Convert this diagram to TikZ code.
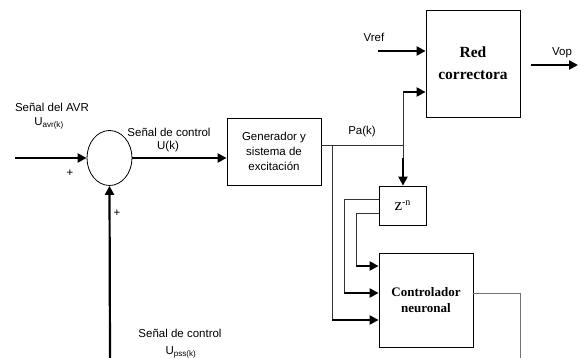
\documentclass[tikz,border=0pt]{standalone}
\usepackage{fontspec}
\setmainfont{Liberation Serif}
\setsansfont{Liberation Sans}
\usetikzlibrary{arrows.meta,shapes.geometric}
\begin{document}
\begin{tikzpicture}[x=1pt,y=-1pt,
  lbl/.style={font=\sffamily\fontsize{11.5}{14}\selectfont, inner sep=0pt, align=center},
  blk/.style={draw, line width=0.8pt, inner sep=0pt, align=center},
  thn/.style={line width=0.8pt, draw=black!80},
  thk/.style={line width=2.2pt},
  arr/.style={thk, -{Triangle[length=9pt,width=9pt]}}]
\useasboundingbox (0,0) rectangle (581,358);
% blocks
\node[draw, ellipse, line width=0.8pt, minimum width=45pt, minimum height=55pt, inner sep=0pt] (sum) at (109.5,158) {};
\node[blk, minimum width=94pt, minimum height=67pt, font=\sffamily\fontsize{11.5}{15}\selectfont] (gen) at (274,151.5) {Generador y\\sistema de\\excitación};
\node[blk, minimum width=94pt, minimum height=107pt, font=\bfseries\fontsize{15.5}{22}\selectfont] (red) at (473,63.5) {Red\\correctora};
\node[blk, minimum width=47pt, minimum height=39pt, font=\fontsize{17}{18}\selectfont] (z) at (402.5,205.5) {z\raisebox{5pt}{\fontsize{10}{10}\selectfont -n}};
\node[blk, minimum width=94pt, minimum height=94pt, font=\bfseries\fontsize{13}{16}\selectfont] (ctrl) at (426,300) {Controlador\\neuronal};
% coordinates
\coordinate (avrin) at (15,158);
\coordinate (pssin) at (110,358);
\coordinate (vrefin) at (378,51);
\coordinate (vopa) at (531,65);
\coordinate (vopb) at (578,65);
\coordinate (pa) at (403,145);
\coordinate (t1) at (403,92);
\coordinate (t2) at (403,158);
\coordinate (br) at (332,145);
\coordinate (b2) at (332,320);
\coordinate (za) at (379,199);
\coordinate (zb) at (379,213);
\coordinate (c1) at (344,293);
\coordinate (c2) at (356,266);
\coordinate (o1) at (520,358);
% connectors
\draw[arr] (avrin) -- (sum.west);
\draw[arr] (pssin) -- (sum.south);
\draw[arr] (sum.east) -- (gen.west |- sum.east);
\draw[arr] (vrefin) -- (red.west |- vrefin);
\draw[arr] (vopa) -- (vopb);
\draw[thn] (gen.east |- pa) -- (pa);
\draw[thn] (pa) -- (t1);
\draw[arr] (t1) -- (red.west |- t1);
\draw[thn] (pa) -- (t2);
\draw[arr] (t2) -- (t2 |- z.north);
\draw[thn] (br) -- (b2);
\draw[arr] (b2) -- (ctrl.west |- b2);
\draw[thn] (za) -| (c1);
\draw[arr] (c1) -- (ctrl.west |- c1);
\draw[thn] (zb) -| (c2);
\draw[arr] (c2) -- (ctrl.west |- c2);
\draw[thn, draw=black!55] (ctrl.east |- c1) -| (o1);
% labels
\node[lbl] (l1) at (52,107) {Señal del AVR};
\node[lbl] (l2) at (49,123) {U\textsubscript{avr(k)}};
\node[lbl] (p1) at (70,173) {+};
\node[lbl] (l3) at (169,132) {Señal de control};
\node[lbl] (l4) at (168,147) {U(k)};
\node[lbl] (l5) at (362,132) {Pa(k)};
\node[lbl] (l6) at (374,37) {Vref};
\node[lbl] (l7) at (562,53) {Vop};
\node[lbl] (p2) at (117,213) {+};
\node[lbl] (l8) at (180,333) {Señal de control};
\node[lbl] (l9) at (181,352) {U\textsubscript{pss(k)}};
\end{tikzpicture}
\end{document}
